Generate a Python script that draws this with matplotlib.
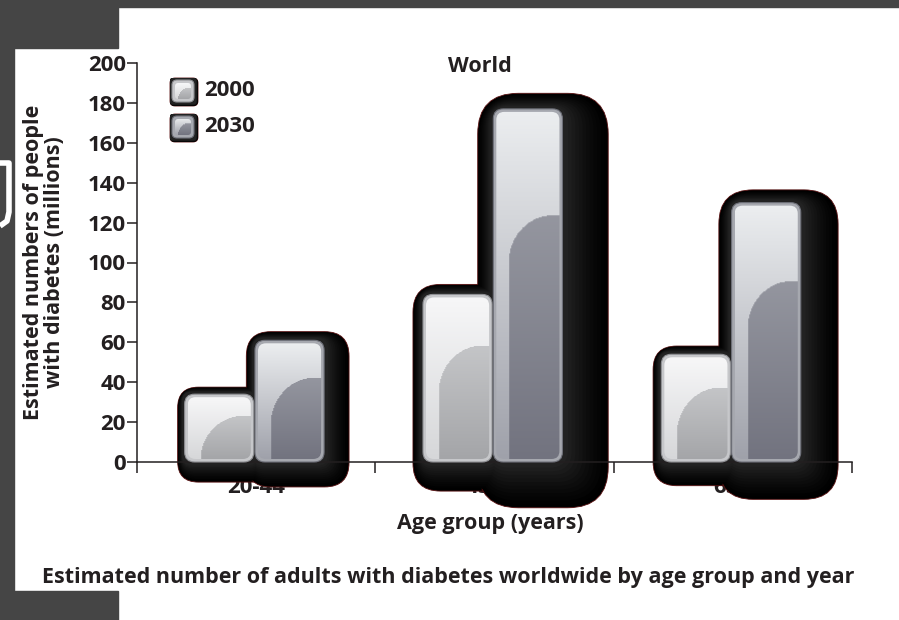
import numpy as np
import matplotlib
matplotlib.use('Agg')
import matplotlib.pyplot as plt
from matplotlib.colors import to_rgb
from matplotlib.patches import FancyBboxPatch, Rectangle

plt.rcParams['font.family'] = ['Open Sans', 'DejaVu Sans']
plt.rcParams['font.weight'] = 'bold'

age_groups = ['20-44', '45-64', '65+']
years = ['2000', '2030']
cases_2000 = [34, 84, 54]
cases_2030 = [61, 177, 130]
y_ticks = list(range(0, 201, 20))

title = 'World'
y_label = 'Estimated numbers of people\nwith diabetes (millions)'
x_label = 'Age group (years)'
caption = 'Estimated number of adults with diabetes worldwide by age group and year'

TEXT = '#231f20'
FRAME = '#454545'
STYLES = {
    '2000': dict(frame='#c6c7ca', edge='#8f9094',
                 light=('#f7f7f8', '#d6d7d9'), dark=('#d2d3d5', '#a4a5a8')),
    '2030': dict(frame='#a6a8af', edge='#6f717a',
                 light=('#eceef0', '#9fa1aa'), dark=('#a3a5ad', '#72737f')),
}
# shadow layers, outermost (black) to innermost (dark grey halo)
SHADES = [str(g) for g in np.linspace(0.0, 0.21, 12) ** 1.3]


def px_scale(ax):
    (x0, y0), (x1, y1) = ax.transData.transform([(0, 0), (1, 1)])
    return x1 - x0, y1 - y0


def rounded(ax, x, y, w, h, r_px, **kw):
    sx, sy = px_scale(ax)
    r_px = min(r_px, w * sx / 2 - 0.5, h * sy / 2 - 0.5)
    return FancyBboxPatch((x, y), w, h,
                          boxstyle=f'round,pad=0,rounding_size={r_px / sx}',
                          mutation_aspect=sx / sy, **kw)


def mix(c_bot, c_top, t):
    a, b = np.array(to_rgb(c_bot)), np.array(to_rgb(c_top))
    return a + (b - a) * t[..., None]


def glossy_image(wpx, hpx, style):
    nx, ny = max(int(round(wpx)), 2), max(int(round(hpx)), 2)
    u = np.arange(nx)[None, :] + 0.5
    v = (ny - np.arange(ny)[:, None]) - 0.5
    t = np.broadcast_to(v / ny, (ny, nx))
    light = mix(style['light'][1], style['light'][0], t)
    dark = mix(style['dark'][1], style['dark'][0], t)
    inset = min(14, 0.2 * nx)
    rx = 0.85 * (nx - inset)
    top = 0.7 * ny
    ry = min(top, 1.1 * rx)
    cx, cy = inset + rx, top - ry
    in_dark = (u >= inset) & (v <= top)
    corner = (u < cx) & (v > cy)
    inside = ((u - cx) / rx) ** 2 + ((v - cy) / ry) ** 2 <= 1
    in_dark = in_dark & (~corner | inside)
    return np.where(in_dark[..., None], dark, light)


def draw_shadow(ax, x, w, h, pads, radius, zorder):
    sx, sy = px_scale(ax)
    n = len(SHADES)
    for k, shade in enumerate(SHADES):
        f = 1 - k / n
        left, top, right, bottom = (2 + (p - 2) * f for p in pads)
        edge = '#5a1212' if k == 0 else 'none'
        patch = rounded(ax, x - left / sx, -bottom / sy,
                        w + (left + right) / sx, h + (top + bottom) / sy,
                        radius * (0.4 + 0.6 * f),
                        facecolor=shade, edgecolor=edge, lw=0.6,
                        zorder=zorder + k * 0.01, clip_on=False)
        ax.add_patch(patch)


def draw_bar(ax, x, w, h, style, radius, zorder):
    sx, sy = px_scale(ax)
    outer = rounded(ax, x, 0, w, h, radius, facecolor=style['frame'],
                    edgecolor=style['edge'], lw=0.8, zorder=zorder, clip_on=False)
    ax.add_patch(outer)
    ix, iy = x + 3 / sx, 3 / sy
    iw, ih = w - 6 / sx, h - 6 / sy
    inner = rounded(ax, ix, iy, iw, ih, radius - 2, facecolor='none',
                    edgecolor='none', zorder=zorder + 0.1, clip_on=False)
    ax.add_patch(inner)
    img = glossy_image(iw * sx, ih * sy, style)
    im = ax.imshow(img, extent=(ix, ix + iw, iy, iy + ih), aspect='auto',
                   interpolation='bilinear', zorder=zorder + 0.2)
    im.set_clip_path(inner)


fig = plt.figure(figsize=(8.99, 6.2), dpi=100, facecolor='white')

# screenshot frame around the figure
for rect in [(0, 0, 14, 620), (0, 0, 899, 7), (0, 0, 118, 48), (0, 591, 118, 29)]:
    x, y, w, h = rect
    fig.add_artist(Rectangle((x / 899, 1 - (y + h) / 620), w / 899, h / 620,
                             transform=fig.transFigure, color=FRAME, zorder=0))
# fragment of a white letter in the left strip
hook = np.array([[0, 163], [9, 163], [9, 212], [7, 221], [0, 226]])
fig.add_artist(plt.Line2D(hook[:, 0] / 899, 1 - hook[:, 1] / 620, color='white',
                          lw=4, solid_capstyle='butt', transform=fig.transFigure,
                          zorder=1))

ax = fig.add_axes([137 / 899, 158 / 620, 715 / 899, 399 / 620])
ax.set_autoscale_on(False)
ax.set_xlim(-0.5, len(age_groups) - 0.5)
ax.set_ylim(0, 200)
ax.set_facecolor('none')

bar_w = 0.29
offsets = {'2000': -0.30, '2030': -0.005}
series = {'2000': cases_2000, '2030': cases_2030}
sx, sy = px_scale(ax)
for i, group in enumerate(age_groups):
    for year in years:
        value = series[year][i]
        hpx = value * sy
        grow = 14 + 0.09 * hpx
        edge = 5 + 0.03 * hpx
        draw_shadow(ax, i + offsets[year], bar_w, value, (edge, edge, grow, grow),
                    16 + 0.07 * hpx, zorder=2)
for i, group in enumerate(age_groups):
    for year in years:
        draw_bar(ax, i + offsets[year], bar_w, series[year][i], STYLES[year], 10, zorder=4)

# axes styling
for side in ['top', 'right']:
    ax.spines[side].set_visible(False)
for side in ['left', 'bottom']:
    ax.spines[side].set_color(TEXT)
    ax.spines[side].set_linewidth(1.1)
ax.spines['bottom'].set_zorder(3)
ax.xaxis.set_zorder(1)

ax.set_yticks(y_ticks)
ax.tick_params(axis='y', length=7, width=1.1, color=TEXT, labelsize=16,
               labelcolor=TEXT, pad=1)
ax.set_xticks(np.arange(-0.5, len(age_groups)))
ax.set_xticklabels([])
ax.set_xticks(np.arange(len(age_groups)), minor=True)
ax.set_xticklabels(age_groups, minor=True)
ax.tick_params(axis='x', which='major', length=8, width=1.1, color=TEXT)
ax.tick_params(axis='x', which='minor', length=0, labelsize=16,
               labelcolor=TEXT, pad=11)

ax.set_ylabel(y_label, fontsize=15.5, fontweight='bold', color=TEXT, linespacing=1.05)
ax.yaxis.set_label_coords(-0.1, 0.5)
ax.set_xlabel(x_label, fontsize=15.5, fontweight='bold', color=TEXT)
ax.xaxis.set_label_coords(0.494, -0.128)

fig.text(480 / 899, 1 - 67 / 620, title, ha='center', va='center',
         fontsize=15.5, color=TEXT)

# legend swatches
for k, year in enumerate(years):
    cy = 91 + 36 * k
    lax = fig.add_axes([172 / 899, 1 - (cy + 11) / 620, 22 / 899, 22 / 620])
    lax.set_xlim(0, 1)
    lax.set_ylim(0, 1)
    lax.axis('off')
    draw_shadow(lax, 0, 1, 1, (2, 2, 4, 4), 5, zorder=2)
    draw_bar(lax, 0, 1, 1, STYLES[year], 5, zorder=4)
    fig.text(204 / 899, 1 - cy / 620, year, ha='left', va='center',
             fontsize=16, color=TEXT)

fig.text(448 / 899, 1 - 577 / 620, caption, ha='center', va='center',
         fontsize=15.5, color=TEXT)

fig.savefig('out.png', dpi=100, facecolor='white')
